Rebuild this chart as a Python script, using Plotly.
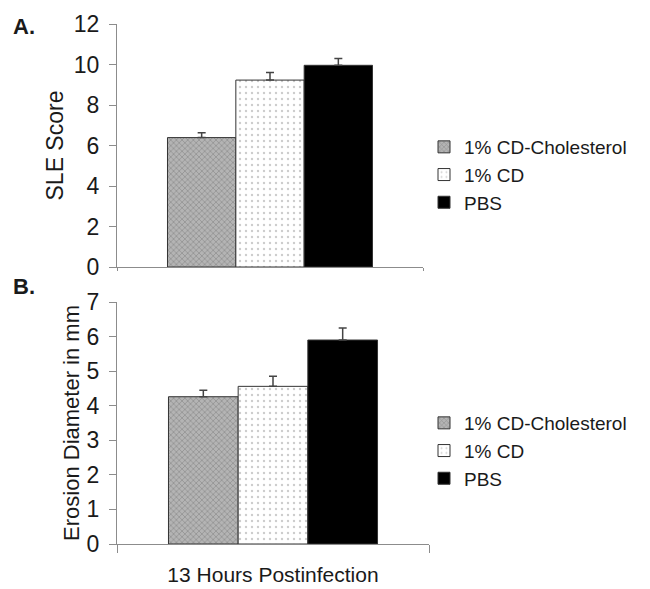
import plotly.graph_objects as go

# ---- data ----
category = ["13 Hours Postinfection"]
series_names = ["1% CD-Cholesterol", "1% CD", "PBS"]
sle_score = [6.39, 9.23, 9.96]
sle_err = [0.24, 0.37, 0.34]
erosion_mm = [4.26, 4.56, 5.90]
erosion_err = [0.19, 0.29, 0.35]
sle_ticks = [0, 2, 4, 6, 8, 10, 12]
erosion_ticks = [0, 1, 2, 3, 4, 5, 6, 7]

FONT = "Liberation Sans, Arial, sans-serif"
TXT = "#1a1a1a"
AX = "#8c8c8c"

styles = [
    dict(color="#a6a6a6", pattern=dict(shape="x", fgcolor="#6e6e6e", bgcolor="#b4b4b4", size=4, solidity=0.35)),
    dict(color="#ffffff", pattern=dict(shape=".", fgcolor="#9a9a9a", bgcolor="#ffffff", size=6, solidity=0.12)),
    dict(color="#000000", pattern=dict(shape="")),
]

fig = go.Figure()

for i, name in enumerate(series_names):
    st = styles[i]
    fig.add_trace(go.Bar(
        x=category, y=[sle_score[i]], name=name, xaxis="x", yaxis="y", legend="legend",
        marker=dict(color=st["color"], pattern=st["pattern"], line=dict(color="#333333", width=1)),
        error_y=dict(type="data", array=[sle_err[i]], arrayminus=[0], symmetric=False,
                     color="#444444", thickness=1.5, width=4),
    ))
for i, name in enumerate(series_names):
    st = styles[i]
    fig.add_trace(go.Bar(
        x=category, y=[erosion_mm[i]], name=name, xaxis="x2", yaxis="y2", legend="legend2",
        marker=dict(color=st["color"], pattern=st["pattern"], line=dict(color="#333333", width=1)),
        error_y=dict(type="data", array=[erosion_err[i]], arrayminus=[0], symmetric=False,
                     color="#444444", thickness=1.5, width=4),
    ))

# the page puts the figure 8px in from the top-left corner
OFF = 8
W, H = 650 - OFF, 589 - OFF
# plot area in reference-image pixels
L, R, T, B = 117, 429, 24, 544
pw, ph = R - L, B - T

def py(pix):
    return (B - pix) / ph

def px(pix):
    return (pix - L) / pw

common_y = dict(showgrid=False, zeroline=False, showline=True, linecolor=AX, linewidth=1,
                ticks="outside", ticklen=7, tickcolor=AX, automargin=False,
                ticklabelstandoff=5,
                tickfont=dict(family=FONT, size=23, color=TXT))
common_x = dict(type="category", showgrid=False, zeroline=False, showline=True, linecolor=AX,
                linewidth=1, ticks="outside", tickson="boundaries", tickcolor=AX, automargin=False,
                range=[-0.5, 0.5])

fig.update_layout(
    width=W, height=H,
    margin=dict(l=L - OFF, r=W - (R - OFF), t=T - OFF, b=H - (B - OFF)),
    paper_bgcolor="white", plot_bgcolor="white",
    barmode="group", bargap=0.33, bargroupgap=0,
    font=dict(family=FONT, color=TXT),
    xaxis=dict(domain=[0, (423 - L) / pw], anchor="y", showticklabels=False, ticklen=3, **common_x),
    yaxis=dict(domain=[py(267), 1.0], anchor="x", range=[0, 12], tickvals=sle_ticks,
               title=dict(text="SLE Score", standoff=3, font=dict(family=FONT, size=23, color=TXT)),
               **common_y),
    xaxis2=dict(domain=[0, 1], anchor="y2", showticklabels=True, ticklen=8,
                ticklabelstandoff=12,
                tickfont=dict(family=FONT, size=21, color=TXT), **common_x),
    yaxis2=dict(domain=[0, py(302)], anchor="x2", range=[0, 7], tickvals=erosion_ticks,
                title=dict(text="Erosion Diameter in mm", standoff=0,
                           font=dict(family=FONT, size=22, color=TXT)),
                **common_y),
    legend=dict(x=px(424), y=py(128), xanchor="left", yanchor="top", bgcolor="rgba(0,0,0,0)",
                font=dict(family=FONT, size=19, color=TXT), tracegroupgap=0, itemwidth=30),
    legend2=dict(x=px(424), y=py(404), xanchor="left", yanchor="top", bgcolor="rgba(0,0,0,0)",
                 font=dict(family=FONT, size=19, color=TXT), tracegroupgap=0, itemwidth=30),
    annotations=[
        dict(text="<b>A.</b>", x=px(11), y=py(27), xref="paper", yref="paper", xanchor="left",
             yanchor="middle", showarrow=False, font=dict(family=FONT, size=22, color=TXT)),
        dict(text="<b>B.</b>", x=px(11), y=py(286), xref="paper", yref="paper", xanchor="left",
             yanchor="middle", showarrow=False, font=dict(family=FONT, size=22, color=TXT)),
    ],
)

fig.write_html("out.html")
